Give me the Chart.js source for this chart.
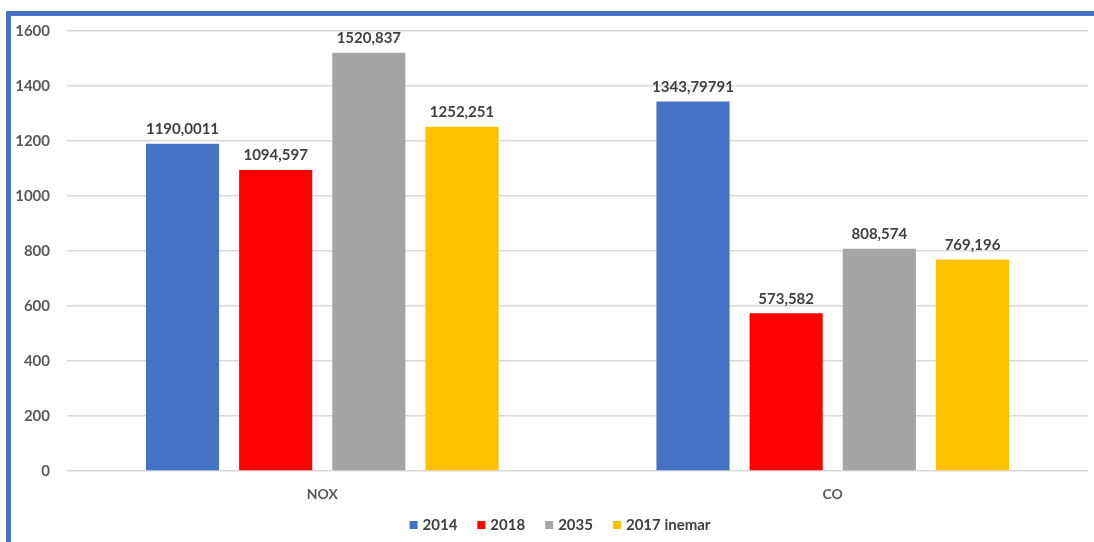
<!DOCTYPE html>
<html>
<head>
<meta charset="utf-8">
<script src="https://cdn.jsdelivr.net/npm/chart.js@4/dist/chart.umd.min.js"></script>
<style>
  html, body { margin: 0; padding: 0; background: #ffffff; }
  #wrap { position: relative; width: 1094px; height: 542px; }
  #c { position: absolute; left: 0; top: 0; }
  #frame { position: absolute; left: 6px; top: 11px; width: 1088px; height: 531px;
           border-top: 5px solid #4472C4; border-left: 5px solid #4472C4; box-sizing: border-box; pointer-events: none; }
</style>
</head>
<body>
<div id="wrap">
  <canvas id="c" width="1094" height="542"></canvas>
  <div id="frame"></div>
</div>
<script>
const categories = ['NOX', 'CO'];
const seriesNames = ['2014', '2018', '2035', '2017 inemar'];
const values2014 = [1190.0011, 1343.79791];
const values2018 = [1094.597, 573.582];
const values2035 = [1520.837, 808.574];
const values2017inemar = [1252.251, 769.196];
const yTicks = [0, 200, 400, 600, 800, 1000, 1200, 1400, 1600];
const colors = ['#4472C4', '#FF0000', '#A5A5A5', '#FFC000'];

const allValues = [values2014, values2018, values2035, values2017inemar];
const FONT = 'Lato, "Open Sans", sans-serif';

const labelPlugin = {
  id: 'valueLabels',
  afterDatasetsDraw(chart) {
    const ctx = chart.ctx;
    ctx.save();
    ctx.font = 'bold 15px ' + FONT;
    ctx.fillStyle = '#404040';
    ctx.textAlign = 'center';
    ctx.textBaseline = 'bottom';
    chart.data.datasets.forEach((ds, i) => {
      const meta = chart.getDatasetMeta(i);
      meta.data.forEach((bar, j) => {
        const txt = String(ds.data[j]).replace('.', ',');
        ctx.fillText(txt, bar.x, bar.y - 7);
      });
    });
    ctx.restore();
  }
};

const legendPlugin = {
  id: 'customLegend',
  afterDraw(chart) {
    const ctx = chart.ctx;
    ctx.save();
    ctx.font = 'bold 15px ' + FONT;
    ctx.textBaseline = 'middle';
    ctx.textAlign = 'left';
    const box = 8, boxGap = 5, itemGap = 20;
    const items = chart.data.datasets.map(ds => ({ text: ds.label, color: ds.backgroundColor, w: ctx.measureText(ds.label).width }));
    const total = items.reduce((s, it) => s + box + boxGap + it.w, 0) + itemGap * (items.length - 1);
    let x = 560 - total / 2;
    const y = 525;
    items.forEach(it => {
      ctx.fillStyle = it.color;
      ctx.fillRect(x, y - box / 2, box, box);
      x += box + boxGap;
      ctx.fillStyle = '#404040';
      ctx.fillText(it.text, x, y);
      x += it.w + itemGap;
    });
    ctx.restore();
  }
};

new Chart(document.getElementById('c'), {
  type: 'bar',
  data: {
    labels: categories,
    datasets: seriesNames.map((n, i) => ({
      label: n,
      data: allValues[i],
      backgroundColor: colors[i],
      borderWidth: 0,
      categoryPercentage: 0.73,
      barPercentage: 0.785
    }))
  },
  options: {
    responsive: false,
    animation: false,
    layout: { padding: { left: 0, right: 6, top: 31, bottom: 26 } },
    plugins: {
      legend: { display: false },
      tooltip: { enabled: false }
    },
    scales: {
      x: {
        grid: { display: false, drawTicks: false },
        border: { display: false },
        afterFit(scale) { scale.height = 45; },
        ticks: { color: '#595959', padding: 15, font: { family: FONT, size: 14, weight: 'bold' } }
      },
      y: {
        min: 0, max: 1600,
        afterBuildTicks(scale) { scale.ticks = yTicks.map(v => ({ value: v })); },
        afterFit(scale) { scale.width = 67; },
        grid: { color: '#D9D9D9', lineWidth: 1.5, drawTicks: false },
        border: { display: false },
        ticks: {
          color: '#595959', padding: 17,
          font: { family: FONT, size: 15, weight: 'bold' },
          callback: v => String(v)
        }
      }
    }
  },
  plugins: [labelPlugin, legendPlugin]
});
</script>
</body>
</html>
